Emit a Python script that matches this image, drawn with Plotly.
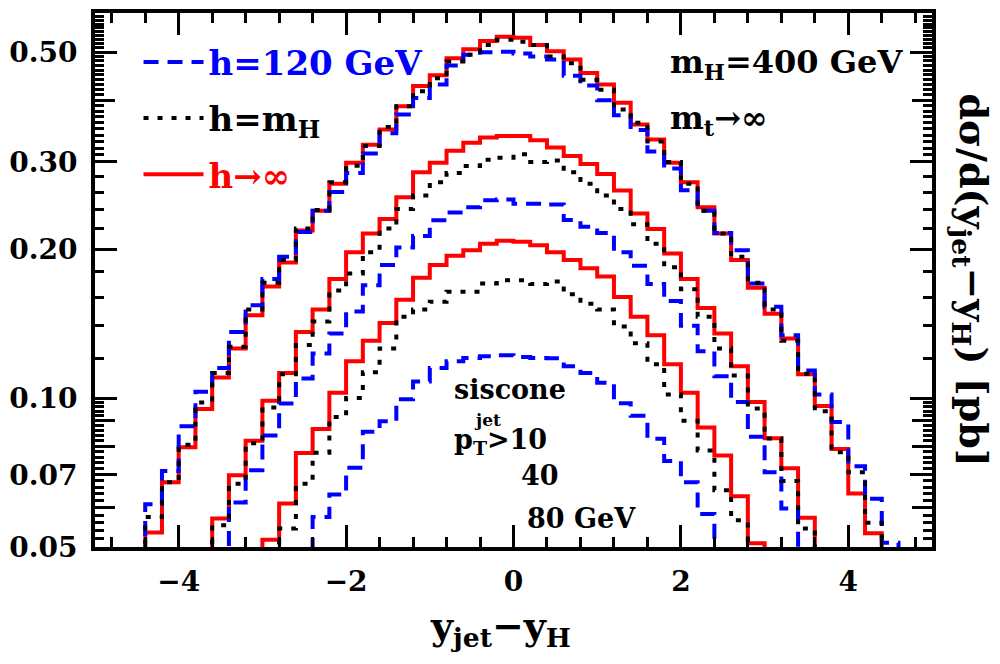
import plotly.graph_objects as go

BW = 0.2  # bin width in y_jet - y_H

# ---- pT(jet) > 10 GeV  (bin lower edges start at -4.8)
start_10 = -4.8
red_10 = [0.040, 0.046, 0.0535, 0.0676, 0.0795, 0.095, 0.110, 0.126, 0.147, 0.168,
          0.188, 0.218, 0.239, 0.271, 0.299, 0.325, 0.349, 0.389, 0.427, 0.449,
          0.486, 0.507, 0.527, 0.537, 0.535, 0.517, 0.502, 0.483, 0.454, 0.430,
          0.395, 0.357, 0.333, 0.299, 0.273, 0.243, 0.215, 0.190, 0.167, 0.148,
          0.132, 0.1117, 0.0964, 0.0789, 0.0641, 0.0533, 0.046, 0.040]
blue_10 = [0.044, 0.0495, 0.061, 0.0712, 0.0877, 0.103, 0.115, 0.136, 0.154, 0.174,
           0.193, 0.2165, 0.239, 0.261, 0.285, 0.312, 0.343, 0.374, 0.404, 0.430,
           0.470, 0.494, 0.500, 0.501, 0.497, 0.490, 0.483, 0.448, 0.428, 0.400,
           0.373, 0.348, 0.315, 0.291, 0.263, 0.239, 0.2155, 0.199, 0.1705, 0.153,
           0.134, 0.1137, 0.1017, 0.0895, 0.0728, 0.0626, 0.051, 0.044]
black_10 = [0.040, 0.048, 0.0575, 0.0676, 0.0805, 0.098, 0.1124, 0.127, 0.151, 0.171,
            0.190, 0.220, 0.240, 0.273, 0.2947, 0.323, 0.353, 0.389, 0.417, 0.443,
            0.479, 0.494, 0.517, 0.530, 0.525, 0.517, 0.490, 0.475, 0.440, 0.420,
            0.383, 0.360, 0.330, 0.300, 0.271, 0.239, 0.215, 0.193, 0.171, 0.151,
            0.1305, 0.112, 0.094, 0.0777, 0.0708, 0.056, 0.048, 0.040]

# ---- pT(jet) > 40 GeV
start_40 = -3.8
red_40 = [0.046, 0.0571, 0.0698, 0.082, 0.0987, 0.1124, 0.136, 0.151, 0.174, 0.197,
          0.215, 0.230, 0.2545, 0.286, 0.299, 0.316, 0.328, 0.336, 0.3385, 0.3385,
          0.332, 0.321, 0.3086, 0.297, 0.2835, 0.2626, 0.236, 0.2195, 0.196, 0.174,
          0.152, 0.135, 0.116, 0.0982, 0.0829, 0.0721, 0.0573, 0.046]
blue_40 = [0.042, 0.047, 0.0615, 0.0715, 0.084, 0.0975, 0.1095, 0.123, 0.135, 0.1496,
           0.169, 0.1857, 0.2015, 0.2125, 0.2286, 0.237, 0.243, 0.251, 0.252, 0.247,
           0.247, 0.246, 0.229, 0.222, 0.2155, 0.197, 0.185, 0.170, 0.157, 0.140,
           0.1243, 0.1107, 0.0982, 0.0835, 0.0708, 0.0598, 0.046, 0.042]
black_40 = [0.045, 0.0553, 0.0671, 0.081, 0.0957, 0.1117, 0.128, 0.1428, 0.165, 0.1786,
            0.197, 0.220, 0.241, 0.2566, 0.273, 0.285, 0.2945, 0.303, 0.306, 0.311,
            0.300, 0.302, 0.286, 0.271, 0.2566, 0.241, 0.2245, 0.205, 0.1837, 0.166,
            0.146, 0.126, 0.111, 0.0952, 0.0828, 0.068, 0.0545, 0.045]

# ---- pT(jet) > 80 GeV
start_80_red = -3.2
red_80 = [0.046, 0.0517, 0.0612, 0.0774, 0.0866, 0.1025, 0.1187, 0.1305, 0.1418, 0.158,
          0.175, 0.1857, 0.194, 0.199, 0.205, 0.208, 0.207, 0.2035, 0.197, 0.190,
          0.183, 0.176, 0.160, 0.146, 0.134, 0.117, 0.1025, 0.0872, 0.0765, 0.0633,
          0.0509, 0.045]
start_80_black = -3.0
black_80 = [0.045, 0.0545, 0.0671, 0.0775, 0.0916, 0.100, 0.1128, 0.126, 0.146, 0.151,
            0.1566, 0.164, 0.164, 0.1705, 0.173, 0.173, 0.170, 0.172, 0.162, 0.155,
            0.151, 0.1395, 0.129, 0.117, 0.1017, 0.090, 0.0783, 0.0651, 0.0566, 0.046]
start_80_blue = -2.6
blue_80 = [0.047, 0.0575, 0.0638, 0.0723, 0.0855, 0.0898, 0.0994, 0.108, 0.115, 0.1187,
           0.1205, 0.1215, 0.122, 0.121, 0.1205, 0.1203, 0.116, 0.1124, 0.1074, 0.0976,
           0.0921, 0.0827, 0.0746, 0.0676, 0.0583, 0.047]

# axis ticks
x_major = [-4, -2, 0, 2, 4]
x_major_text = ["\u22124", "\u22122", "0", "2", "4"]
y_major = [0.05, 0.07, 0.10, 0.20, 0.30, 0.50]
y_major_text = ["0.05", "0.07", "0.10", "0.20", "0.30", "0.50"]
y_long_unlabeled = [0.06, 0.08, 0.09, 0.40]
y_minor = ([round(0.05 + 0.002 * i, 4) for i in range(1, 25)]
           + [0.12, 0.14, 0.16, 0.18, 0.22, 0.24, 0.26, 0.28]
           + [round(0.30 + 0.01 * i, 3) for i in range(1, 31)])
y_minor = [v for v in y_minor if v not in y_major and v not in y_long_unlabeled]

FONT = "DejaVu Serif"
BLUE, RED, BLACK = "#0000ff", "#ff0000", "#000000"
styles = {
    "red": dict(color=RED, width=4, dash="solid"),
    "blue": dict(color=BLUE, width=4, dash="15px,9px"),
    "black": dict(color=BLACK, width=4, dash="5px,9px"),
}
legend_names = {
    "blue": "<span style='color:#0000ff'>h=120 GeV</span>",
    "black": "<span style='color:#000000'>h=m<sub>H</sub></span>",
    "red": "<span style='color:#ff0000'>h\u2192\u221e</span>",
}
legend_rank = {"blue": 1, "black": 2, "red": 3}


def step_xy(start, vals):
    xs = [round(start + BW * i, 3) for i in range(len(vals) + 1)]
    ys = list(vals) + [vals[-1]]
    return xs, ys


groups = [
    [("red", start_10, red_10), ("blue", start_10, blue_10), ("black", start_10, black_10)],
    [("red", start_40, red_40), ("blue", start_40, blue_40), ("black", start_40, black_40)],
    [("red", start_80_red, red_80), ("blue", start_80_blue, blue_80), ("black", start_80_black, black_80)],
]

fig = go.Figure()
for gi, grp in enumerate(groups):
    for key, st, vals in grp:
        xs, ys = step_xy(st, vals)
        fig.add_trace(go.Scatter(
            x=xs, y=ys, mode="lines", line=dict(shape="hv", **styles[key]),
            name=legend_names[key], legendgroup=key, legendrank=legend_rank[key],
            showlegend=(gi == 0), hoverinfo="skip"))

# invisible helper trace on an overlaid axis that carries the long unlabeled y ticks
fig.add_trace(go.Scatter(x=[0], y=[0.1], mode="markers", marker=dict(opacity=0),
                         xaxis="x", yaxis="y2", showlegend=False, hoverinfo="skip"))

axis_common = dict(
    showline=True, linewidth=4, linecolor="black", mirror="ticks",
    ticks="inside", tickcolor="black", tickwidth=3, ticklen=22,
    showgrid=False, zeroline=False,
    tickfont=dict(family=FONT, size=28, color="black", weight="bold"),
)

fig.update_layout(
    width=1000, height=664,
    margin=dict(l=94, r=68, t=9, b=117),
    paper_bgcolor="white", plot_bgcolor="white",
    font=dict(family=FONT, color="black", weight="bold"),
    xaxis=dict(range=[-5, 5], tickmode="array", tickvals=x_major, ticktext=x_major_text,
               minor=dict(tickmode="linear", tick0=0, dtick=0.4, ticks="inside",
                          ticklen=10, tickwidth=3, tickcolor="black"),
               ticklabelstandoff=6, **axis_common),
    yaxis=dict(type="log", range=[-1.30103, -0.22185], tickmode="array",
               tickvals=y_major, ticktext=y_major_text,
               minor=dict(tickmode="array", tickvals=y_minor, ticks="inside",
                          ticklen=9, tickwidth=3, tickcolor="black"),
               ticklabelstandoff=8, **axis_common),
    yaxis2=dict(type="log", range=[-1.30103, -0.22185], overlaying="y", side="left",
                tickmode="array", tickvals=y_long_unlabeled, showticklabels=False,
                ticks="inside", ticklen=20, tickwidth=3, tickcolor="black",
                showline=False, mirror="ticks", showgrid=False, zeroline=False),
    showlegend=True,
    legend=dict(x=0.052, y=0.962, xanchor="left", yanchor="top", itemwidth=60,
                bgcolor="rgba(0,0,0,0)", traceorder="grouped", tracegroupgap=9,
                font=dict(family=FONT, size=34, weight="bold")),
)

ann = dict(xref="paper", yref="paper", showarrow=False,
           font=dict(family=FONT, size=32, color="black", weight="bold"))
fig.add_annotation(text="m<sub>H</sub>=400 GeV", x=0.684, y=0.905, xanchor="left",
                   yanchor="middle", **ann)
fig.add_annotation(text="m<sub>t</sub>\u2192\u221e", x=0.684, y=0.80, xanchor="left",
                   yanchor="middle", **ann)

small = dict(xref="paper", yref="paper", showarrow=False,
             font=dict(family=FONT, size=27, color="black", weight="bold"))
fig.add_annotation(text="siscone", x=0.427, y=0.295, xanchor="left", yanchor="middle", **small)
fig.add_annotation(text="p<sub>T</sub>>10", x=0.427, y=0.198, xanchor="left", yanchor="middle", **small)
fig.add_annotation(text="jet", x=0.469, y=0.238, xanchor="center", yanchor="middle",
                   xref="paper", yref="paper", showarrow=False,
                   font=dict(family=FONT, size=17, color="black", weight="bold"))
fig.add_annotation(text="40", x=0.557, y=0.134, xanchor="right", yanchor="middle", **small)
fig.add_annotation(text="80 GeV", x=0.514, y=0.054, xanchor="left", yanchor="middle", **small)

fig.add_annotation(text="y<sub>jet</sub>\u2212y<sub>H</sub>", x=0.485, y=-0.152,
                   xanchor="center", yanchor="middle", xref="paper", yref="paper",
                   showarrow=False, font=dict(family=FONT, size=38, color="black", weight="bold"))
fig.add_annotation(text="d\u03c3/d(y<sub>jet</sub>\u2212y<sub>H</sub>) [pb]", x=1.046, y=0.5,
                   xanchor="center", yanchor="middle", textangle=90, xref="paper", yref="paper",
                   showarrow=False, font=dict(family=FONT, size=38, color="black", weight="bold"))

fig.write_html("out.html", config={"displayModeBar": False},
               post_script="document.body.style.margin='0';document.body.style.overflow='hidden';")
